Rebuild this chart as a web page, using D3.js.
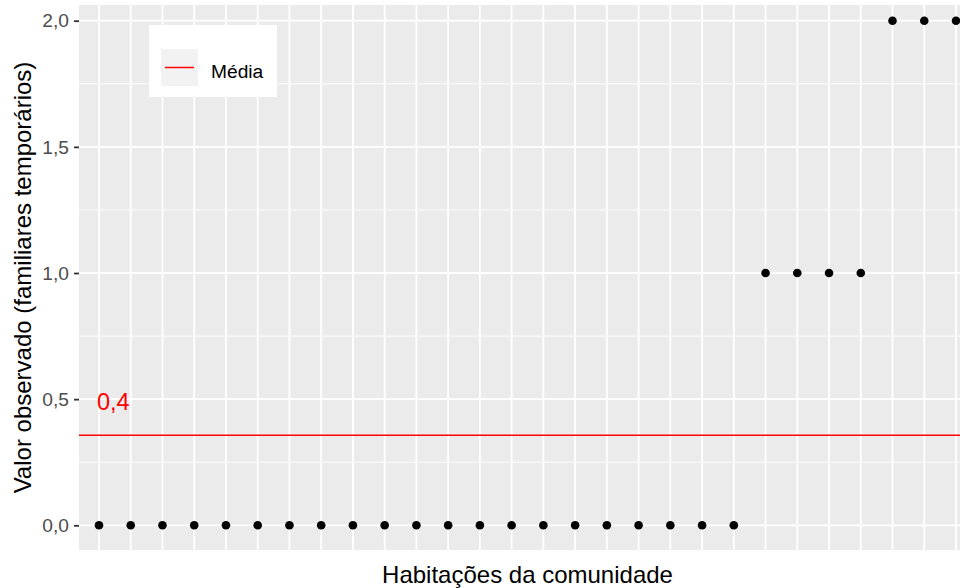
<!DOCTYPE html>
<html>
<head>
<meta charset="utf-8">
<script src="https://cdn.jsdelivr.net/npm/d3@7"></script>
<style>
  body { margin: 0; background: #fff; }
  svg { display: block; font-family: "Liberation Sans", Arial, sans-serif; }
</style>
</head>
<body>
<div id="chart"></div>
<script>
// observed values per dwelling (28 houses)
var houses = d3.range(1, 29).map(function (i) { return "H" + i; });
var values = [0, 0, 0, 0, 0, 0, 0, 0, 0, 0, 0, 0, 0, 0, 0, 0, 0, 0, 0, 0, 0,
              1, 1, 1, 1,
              2, 2, 2];
var yTicks = [0, 0.5, 1, 1.5, 2];
var yMinor = [0.25, 0.75, 1.25, 1.75];
var legendLabel = "Média";

var width = 960, height = 588;
var panel = { left: 79, right: 976, top: 5, bottom: 550 };

var svg = d3.select('#chart').append('svg')
  .attr('width', width)
  .attr('height', height);

var x = d3.scalePoint()
  .domain(houses)
  .range([99, 956]);

var y = d3.scaleLinear()
  .domain([0, 2])
  .range([525.3, 20.7]);

var meanVal = d3.mean(values);
var fmt = function (v) { return d3.format(".1f")(v).replace(".", ","); };

// panel background
svg.append('rect')
  .attr('x', panel.left).attr('y', panel.top)
  .attr('width', panel.right - panel.left)
  .attr('height', panel.bottom - panel.top)
  .attr('fill', '#ebebeb');

// minor grid
svg.selectAll('.minor')
  .data(yMinor).enter()
  .append('line')
  .attr('x1', panel.left).attr('x2', panel.right)
  .attr('y1', function (d) { return y(d); })
  .attr('y2', function (d) { return y(d); })
  .attr('stroke', '#fff').attr('stroke-width', 0.9);

// major grid
svg.selectAll('.hmajor')
  .data(yTicks).enter()
  .append('line')
  .attr('x1', panel.left).attr('x2', panel.right)
  .attr('y1', function (d) { return y(d); })
  .attr('y2', function (d) { return y(d); })
  .attr('stroke', '#fff').attr('stroke-width', 1.8);

svg.selectAll('.vmajor')
  .data(houses).enter()
  .append('line')
  .attr('y1', panel.top).attr('y2', panel.bottom)
  .attr('x1', function (d) { return x(d); })
  .attr('x2', function (d) { return x(d); })
  .attr('stroke', '#fff').attr('stroke-width', 1.8);

// mean line
svg.append('line')
  .attr('x1', panel.left).attr('x2', panel.right)
  .attr('y1', y(meanVal)).attr('y2', y(meanVal))
  .attr('stroke', '#ff0000').attr('stroke-width', 1.5);

svg.append('text')
  .attr('x', x(houses[0]) - 2)
  .attr('y', y(meanVal + 0.1))
  .attr('fill', '#ff0000')
  .style('font-size', '23.5px')
  .text(fmt(meanVal));

// points
svg.selectAll('.pt')
  .data(values).enter()
  .append('circle')
  .attr('cx', function (d, i) { return x(houses[i]); })
  .attr('cy', function (d) { return y(d); })
  .attr('r', 4.3)
  .attr('fill', '#000');

// y axis
var yAxis = d3.axisLeft(y)
  .tickValues(yTicks)
  .tickSize(5)
  .tickPadding(5)
  .tickFormat(fmt);

var gy = svg.append('g')
  .attr('transform', 'translate(' + panel.left + ',0)')
  .call(yAxis);
gy.select('.domain').remove();
gy.selectAll('.tick line').attr('stroke', '#333').attr('stroke-width', 1.8);
gy.selectAll('.tick text')
  .attr('fill', '#4d4d4d')
  .style('font-size', '19.2px')
  .style('font-family', '"Liberation Sans", Arial, sans-serif');

// axis titles
svg.append('text')
  .attr('x', (panel.left + panel.right) / 2)
  .attr('y', 583)
  .attr('text-anchor', 'middle')
  .style('font-size', '24px')
  .text('Habitações da comunidade');

svg.append('text')
  .attr('transform', 'translate(31,' + ((panel.top + panel.bottom) / 2) + ') rotate(-90)')
  .attr('text-anchor', 'middle')
  .style('font-size', '24px')
  .text('Valor observado (familiares temporários)');

// legend
var lg = svg.append('g').attr('transform', 'translate(149,25)');
lg.append('rect')
  .attr('width', 128).attr('height', 72)
  .attr('fill', '#fff');
lg.append('rect')
  .attr('x', 12).attr('y', 24)
  .attr('width', 37).attr('height', 37)
  .attr('fill', '#f2f2f2');
lg.append('line')
  .attr('x1', 16).attr('x2', 45)
  .attr('y1', 42.5).attr('y2', 42.5)
  .attr('stroke', '#ff0000').attr('stroke-width', 1.5);
lg.append('text')
  .attr('x', 62).attr('y', 52.5)
  .style('font-size', '19.2px')
  .attr('fill', '#000')
  .text(legendLabel);
</script>
</body>
</html>
